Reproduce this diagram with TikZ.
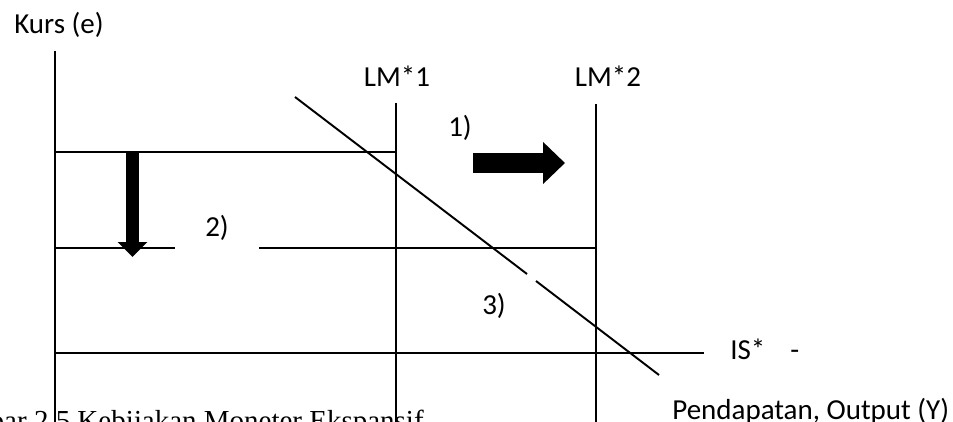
\documentclass[tikz,border=0pt]{standalone}
\usepackage{fontspec}
\setmainfont{Carlito}
\newfontfamily\capfont{Liberation Serif}
\usetikzlibrary{arrows.meta}
\tikzset{
  curve/.style={line width=1.1pt, black},
  lab/.style={font=\fontsize{16.5}{19}\selectfont, inner sep=0pt},
  shiftarrow/.style={black, -{Triangle[length=#1]}},
}

\begin{document}
\begin{tikzpicture}[x=0.02cm, y=-0.02cm]
\useasboundingbox (0,0) rectangle (953,422);
\clip (0,0) rectangle (953,422);
% axes and curves
\coordinate (ytop) at (55,51);
\coordinate (ybot) at (55,432);
\coordinate (lm1top) at (396,103);
\coordinate (lm1bot) at (396,432);
\coordinate (lm2top) at (596,104);
\coordinate (lm2bot) at (596,432);
\coordinate (e1l) at (55,152);
\coordinate (e1r) at (397,152);
\coordinate (e2l) at (55,248);
\coordinate (e2a) at (175,248);
\coordinate (e2b) at (259,248);
\coordinate (e2r) at (596,248);
\coordinate (isl) at (55,353);
\coordinate (isr) at (704,353);
\coordinate (d1) at (295,97);
\coordinate (d2) at (527,274);
\coordinate (d3) at (536,281);
\coordinate (d4) at (659,375);
\draw[curve] (ytop) -- (ybot);
\draw[curve] (lm1top) -- (lm1bot);
\draw[curve] (lm2top) -- (lm2bot);
\draw[curve] (e1l) -- (e1r);
\draw[curve] (e2l) -- (e2a);
\draw[curve] (e2b) -- (e2r);
\draw[curve] (isl) -- (isr);
\draw[curve] (d1) -- (d2);
\draw[curve] (d3) -- (d4);
% shift arrows
\coordinate (r1) at (473,163);
\coordinate (r2) at (565,163);
\coordinate (dn1) at (132.5,152);
\coordinate (dn2) at (132.5,257);
\draw[shiftarrow={12.5pt, width=23.2pt}, line width=11.3pt] (r1) -- (r2);
\draw[shiftarrow={8.5pt, width=16.4pt}, line width=7.4pt] (dn1) -- (dn2);
% labels
\node[lab, anchor=base west] (kurs) at (14,34) {Kurs (e)};
\node[lab, anchor=base] (lm1) at (397,87) {LM*1};
\node[lab, anchor=base] (lm2) at (608,87) {LM*2};
\node[lab, anchor=base] (s1) at (460,137) {1)};
\node[lab, anchor=base] (s2) at (217,236) {2)};
\node[lab, anchor=base] (s3) at (494,314) {3)};
\node[lab, anchor=base west] (is) at (730,359) {IS*};
\node[lab, anchor=base west] (dash) at (790,359) {-};
\node[lab, anchor=base west] (out) at (672,419) {Pendapatan, Output (Y)};
\node[font=\capfont\fontsize{16.5}{19}\selectfont, inner sep=0pt, anchor=base east] (cap) at (424,430) {Gambar 2.5 Kebijakan Moneter Ekspansif};
\end{tikzpicture}
\end{document}
